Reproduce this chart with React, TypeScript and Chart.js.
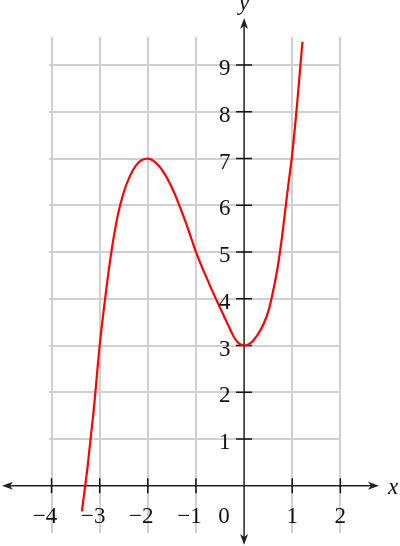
import React, { useEffect, useRef } from "react";
import { Chart, registerables } from "chart.js";

Chart.register(...registerables);

// Curve: branch from the left end up to the kink at x = -1
const leftBranchX = [-3.37, -3.25, -3.125, -3.0, -2.875, -2.75, -2.625, -2.5, -2.375, -2.25, -2.125, -2.0, -1.75, -1.5, -1.25, -1.0];
const leftBranchY = [-0.55, 0.42, 1.61, 3, 4.1, 5.05, 5.78, 6.28, 6.62, 6.85, 6.97, 7, 6.82, 6.38, 5.74, 5];
// Branch from the kink at x = -1 to the top end
const rightBranchX = [-1.0, -0.9, -0.8, -0.7, -0.6, -0.5, -0.4, -0.3, -0.2, -0.1, 0, 0.1, 0.2, 0.3, 0.4, 0.5, 0.6, 0.7, 0.8, 0.9, 1.0, 1.1, 1.2, 1.215];
const rightBranchY = [5, 4.74, 4.5, 4.26, 4.03, 3.81, 3.59, 3.37, 3.16, 3.04, 3, 3.03, 3.12, 3.26, 3.45, 3.72, 4.15, 4.69, 5.42, 6.28, 7.1, 8.15, 9.35, 9.5];

// Axis ticks and labels
const xTickValues = [-4, -3, -2, -1, 1, 2];
const xTickLabels = ["\u22124", "\u22123", "\u22122", "\u22121", "1", "2"];
const yTickValues = [1, 2, 3, 4, 5, 6, 7, 8, 9];
const yTickLabels = ["1", "2", "3", "4", "5", "6", "7", "8", "9"];
const originLabel = "0";
const xAxisName = "x";
const yAxisName = "y";

const X_MIN = -4.053;
const X_MAX = 2.007;
const Y_MIN = -1.012;
const Y_MAX = 9.608;

const FONT = '23px "Liberation Serif"';
const FONT_IT = 'italic 23px "Liberation Serif"';
const AXIS_COLOR = "#222222";

function arrow(ctx: CanvasRenderingContext2D, tx: number, ty: number, dx: number, dy: number) {
  const L = 11, W = 4, I = 3;
  const px = -dy, py = dx;
  ctx.beginPath();
  ctx.moveTo(tx, ty);
  ctx.lineTo(tx - dx * L + px * W, ty - dy * L + py * W);
  ctx.lineTo(tx - dx * (L - I), ty - dy * (L - I));
  ctx.lineTo(tx - dx * L - px * W, ty - dy * L - py * W);
  ctx.closePath();
  ctx.fill();
}

const axesPlugin = {
  id: "axesPlugin",
  beforeDatasetsDraw(chart: any) {
    const ctx: CanvasRenderingContext2D = chart.ctx;
    const xs = chart.scales.x, ys = chart.scales.y;
    const ox = xs.getPixelForValue(0), oy = ys.getPixelForValue(0);
    const left = 2, right = 379, top = 18, bottom = 545;
    ctx.save();
    ctx.strokeStyle = AXIS_COLOR;
    ctx.fillStyle = AXIS_COLOR;
    ctx.lineWidth = 1.5;
    ctx.beginPath();
    ctx.moveTo(left + 8, oy);
    ctx.lineTo(right - 8, oy);
    ctx.moveTo(ox, top + 8);
    ctx.lineTo(ox, bottom - 8);
    ctx.stroke();
    arrow(ctx, left, oy, -1, 0);
    arrow(ctx, right, oy, 1, 0);
    arrow(ctx, ox, top, 0, -1);
    arrow(ctx, ox, bottom, 0, 1);
    ctx.strokeStyle = "#111111";
    ctx.beginPath();
    xTickValues.forEach((v) => {
      const p = xs.getPixelForValue(v);
      ctx.moveTo(p, oy - 7.5);
      ctx.lineTo(p, oy + 7.5);
    });
    yTickValues.forEach((v) => {
      const p = ys.getPixelForValue(v);
      ctx.moveTo(ox - 8, p);
      ctx.lineTo(ox + 8, p);
    });
    ctx.stroke();
    ctx.restore();
  },
  afterDraw(chart: any) {
    const ctx: CanvasRenderingContext2D = chart.ctx;
    const xs = chart.scales.x, ys = chart.scales.y;
    const ox = xs.getPixelForValue(0), oy = ys.getPixelForValue(0);
    ctx.save();
    ctx.fillStyle = "#111111";
    ctx.font = FONT;
    ctx.textBaseline = "alphabetic";
    const digitW = ctx.measureText("0").width;
    ctx.textAlign = "right";
    xTickValues.forEach((v, i) => {
      const p = xs.getPixelForValue(v);
      ctx.fillText(xTickLabels[i], p + digitW / 2, oy + 37);
    });
    ctx.textAlign = "center";
    ctx.fillText(originLabel, ox - 20, oy + 37);
    ctx.textAlign = "right";
    yTickValues.forEach((v, i) => {
      const p = ys.getPixelForValue(v);
      ctx.fillText(yTickLabels[i], ox - 13.5, p + 10);
    });
    ctx.font = FONT_IT;
    ctx.textAlign = "left";
    ctx.fillText(xAxisName, 388, oy + 8.5);
    ctx.textAlign = "center";
    ctx.fillText(yAxisName, ox, 10);
    ctx.restore();
  },
};

export default function App() {
  const canvasRef = useRef<HTMLCanvasElement | null>(null);

  useEffect(() => {
    if (!canvasRef.current) return;
    const toPoints = (xs: number[], ys: number[]) => xs.map((x, i) => ({ x, y: ys[i] }));
    const lineStyle = {
      showLine: true,
      borderColor: "#ff0000",
      borderWidth: 2.2,
      pointRadius: 0,
      cubicInterpolationMode: "monotone",
      fill: false,
      clip: false,
    };
    const chart = new Chart(canvasRef.current, {
      type: "scatter",
      data: {
        datasets: [
          { data: toPoints(leftBranchX, leftBranchY), ...lineStyle } as any,
          { data: toPoints(rightBranchX, rightBranchY), ...lineStyle } as any,
        ],
      },
      options: {
        animation: false,
        responsive: false,
        maintainAspectRatio: false,
        events: [],
        layout: { padding: { left: 49, right: 59.3, top: 36.7, bottom: 13 } },
        plugins: { legend: { display: false }, tooltip: { enabled: false }, title: { display: false } },
        scales: {
          x: {
            type: "linear",
            min: X_MIN,
            max: X_MAX,
            ticks: { display: false, stepSize: 1 },
            grid: { color: "#d0d0d0", lineWidth: 2, drawTicks: false },
            border: { display: false },
            afterBuildTicks: (s: any) => {
              s.ticks = xTickValues.map((v) => ({ value: v }));
            },
          },
          y: {
            type: "linear",
            min: Y_MIN,
            max: Y_MAX,
            ticks: { display: false, stepSize: 1 },
            grid: { color: "#d0d0d0", lineWidth: 2, drawTicks: false },
            border: { display: false },
            afterBuildTicks: (s: any) => {
              s.ticks = yTickValues.map((v) => ({ value: v }));
            },
          },
        },
      } as any,
      plugins: [axesPlugin],
    });
    let alive = true;
    const fonts: any = (document as any).fonts;
    if (fonts && fonts.load) {
      Promise.all([fonts.load(FONT, "0123456789\u2212"), fonts.load(FONT_IT, "xy")])
        .then(() => {
          if (alive) chart.draw();
        })
        .catch(() => {});
    }
    return () => {
      alive = false;
      chart.destroy();
    };
  }, []);

  return (
    <div style={{ position: "absolute", left: 0, top: 0, width: 400, height: 546, background: "#ffffff" }}>
      <span
        style={{ position: "absolute", left: 0, top: 0, visibility: "hidden", fontFamily: '"Liberation Serif"', fontSize: 23 }}
      >
        0123456789 <i>xy</i>
      </span>
      <canvas ref={canvasRef} width={400} height={546} style={{ display: "block", position: "relative", width: 400, height: 546 }} />
    </div>
  );
}
